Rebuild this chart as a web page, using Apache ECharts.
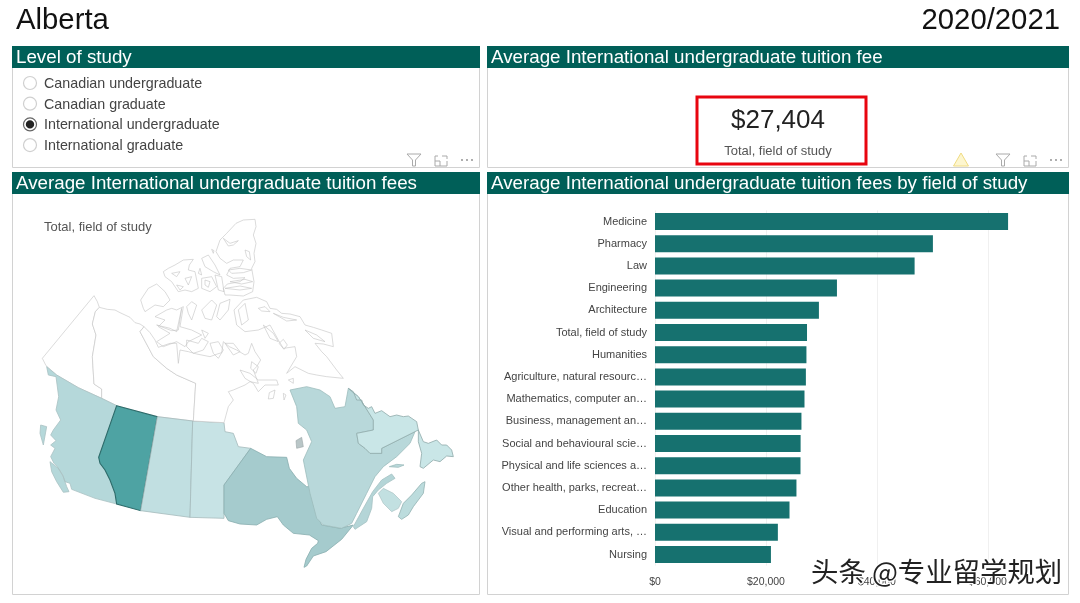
<!DOCTYPE html>
<html>
<head>
<meta charset="utf-8">
<title>Alberta 2020/2021</title>
<script src="https://cdn.jsdelivr.net/npm/echarts@6/dist/echarts.min.js"></script>
<style>
html,body{margin:0;padding:0;background:#fff}
#main{width:1080px;height:603px}
</style>
</head>
<body>
<div id="main"></div>
<script>
var province = 'Alberta';
var year = '2020/2021';
var levels = ['Canadian undergraduate', 'Canadian graduate', 'International undergraduate', 'International graduate'];
var selectedLevel = 2;
var kpiValue = 27404;
var kpiLabel = 'Total, field of study';

var fields = ['Medicine', 'Pharmacy', 'Law', 'Engineering', 'Architecture', 'Total, field of study', 'Humanities',
    'Agriculture, natural resourc…', 'Mathematics, computer an…', 'Business, management an…', 'Social and behavioural scie…',
    'Physical and life sciences a…', 'Other health, parks, recreat…', 'Education', 'Visual and performing arts, …', 'Nursing'];
var fieldFees = [63650, 50100, 46800, 32800, 29550, 27404, 27300, 27200, 26950, 26400, 26250, 26230, 25500, 24250, 22150, 20900];
var feeTicks = [0, 20000, 40000, 60000];

var provinces = ['British Columbia', 'Alberta', 'Saskatchewan', 'Manitoba', 'Ontario', 'Quebec', 'New Brunswick', 'Nova Scotia', 'Prince Edward Island', 'Newfoundland and Labrador'];
var provinceFees = [26500, 27404, 21500, 18500, 38000, 25500, 25000, 23000, 20000, 14000];

// fill and outline per province, same order as provinces
var provinceFill = ['#b5d8da', '#4ea3a3', '#c1dfe1', '#c7e3e5', '#a5cbcd', '#b8d8da', '#b4d5d7', '#bcdcdd', '#c2e0e1', '#c9e6e7'];
var provinceLine = ['#a9c2c3', '#2c6b6a', '#a5babb', '#a5babb', '#88adae', '#9dbcbd', '#a5c2c3', '#93b2b3', '#b3c9ca', '#8fa9aa'];

// outlines, in crop pixels (x, y down), crop origin 20,200 at 3x
var shapes = {
    'Yukon': [[[67,475],[222,287],[232,305],[238,322],[226,335],[217,372],[228,405],[217,470],[222,552],[245,567],[245,595],[175,563],[110,525],[78,497]]],
    'Northwest Territories': [[[238,322],[262,328],[285,330],[300,338],[330,352],[345,368],[360,372],[372,380],[360,395],[400,470],[440,505],[470,525],[527,550],[520,663],[412,650],[290,617],[245,595],[245,567],[222,552],[217,470],[228,405],[217,372],[226,335]]],
    'British Columbia': [
        [[80,500],[110,525],[175,563],[245,595],[290,617],[236,772],[255,810],[270,840],[285,880],[290,912],[225,895],[155,868],[150,850],[135,845],[128,825],[112,800],[102,790],[92,770],[105,745],[92,735],[108,722],[92,705],[100,690],[122,660],[108,630],[116,590],[108,530],[85,525]],
        [[90,785],[115,805],[130,830],[140,860],[147,875],[130,877],[110,845],[95,815]],
        [[62,675],[80,680],[70,735],[60,700]]
    ],
    'Alberta': [[[290,617],[412,650],[362,932],[290,912],[285,880],[270,840],[255,810],[240,790],[236,772]]],
    'Saskatchewan': [[[412,650],[518,663],[510,952],[362,932]]],
    'Manitoba': [[[518,663],[612,668],[615,695],[640,700],[655,740],[692,745],[612,855],[612,955],[510,952]]],
    'Ontario': [[[692,745],[740,770],[800,772],[808,805],[830,835],[860,860],[868,860],[885,930],[905,975],[960,985],[1000,975],[965,1018],[918,1055],[880,1068],[860,1098],[852,1102],[858,1078],[875,1045],[893,1030],[895,1022],[868,1005],[820,1000],[790,975],[772,950],[740,958],[710,975],[660,972],[625,962],[612,940],[612,855]]],
    'Quebec': [
        [[810,570],[860,560],[900,570],[930,590],[945,625],[975,620],[985,565],[1015,590],[1035,620],[1060,660],[1060,690],[1010,700],[1015,730],[1035,745],[1050,760],[1085,760],[1085,745],[1185,695],[1170,730],[1130,770],[1090,800],[1065,830],[1040,880],[1010,940],[995,970],[965,985],[910,975],[890,955],[870,880],[865,855],[850,780],[875,725],[860,690],[835,670],[830,620]],
        [[1108,800],[1130,793],[1152,795],[1135,802]]
    ],
    'New Brunswick': [[[1000,980],[1030,925],[1058,875],[1085,840],[1115,822],[1125,835],[1100,850],[1075,870],[1058,890],[1055,925],[1040,965],[1005,988]]],
    'Nova Scotia': [[[1135,950],[1150,910],[1175,885],[1205,850],[1215,845],[1210,880],[1180,920],[1165,945],[1145,958]]],
    'Prince Edward Island': [[[1075,880],[1090,865],[1120,880],[1145,905],[1135,925],[1115,935],[1090,910]]],
    'Newfoundland and Labrador': [
        [[985,565],[1000,575],[1010,600],[1025,600],[1030,615],[1045,625],[1055,620],[1065,640],[1085,632],[1110,650],[1130,645],[1150,650],[1165,648],[1190,665],[1195,690],[1185,695],[1085,745],[1085,760],[1050,760],[1035,745],[1015,730],[1010,700],[1060,690],[1060,660],[1035,620],[1015,590]],
        [[1195,690],[1210,725],[1225,730],[1250,720],[1265,735],[1280,735],[1295,750],[1300,770],[1280,768],[1260,785],[1240,780],[1210,805],[1200,800],[1205,760],[1195,725]]
    ],
    'Hudson Bay islands': [[[828,722],[845,712],[850,740],[830,745]]]
};

// Arctic coast and islands, same scale, crop origin 130,210
var arcticRings = [
    // mainland, Yukon side of Hudson Bay
    [[42,350],[60,368],[75,390],[85,412],[120,400],[140,400],[145,460],[150,420],[175,425],[200,432],[240,440],[262,432],[275,428],[280,395],[298,410],[320,420],[345,435],[355,430],[365,400],[375,425],[392,450],[380,470],[370,480],[385,520],[360,515],[345,525],[310,540],[295,545],[310,570],[295,590],[282,638],[190,633],[197,520],[140,495],[110,475],[70,440],[30,365]],
    // Ellesmere
    [[318,40],[340,30],[375,28],[378,50],[370,75],[378,100],[372,130],[375,155],[365,175],[372,215],[368,245],[340,258],[300,255],[285,255],[280,235],[292,222],[330,215],[345,203],[310,205],[290,195],[300,175],[330,170],[340,150],[310,150],[290,160],[270,145],[258,125],[270,90],[290,70]],
    [[280,85],[300,100],[325,92],[310,105],[295,108]],
    [[345,120],[358,125],[362,150],[350,140]],
    [[295,180],[330,175],[365,180],[340,188],[305,190]],
    [[300,215],[345,208],[368,215],[335,222]],
    [[285,235],[330,228],[365,235],[330,240]],
    // Queen Elizabeth group
    [[215,145],[235,135],[255,165],[270,195],[250,185],[225,170]],
    [[210,175],[215,195],[205,190]],
    [[245,118],[252,122],[250,130]],
    [[100,185],[115,175],[135,165],[160,150],[190,148],[178,165],[175,180],[195,185],[205,235],[185,245],[165,240],[145,245],[125,215],[105,200]],
    [[125,190],[150,185],[140,200]],
    [[165,205],[185,200],[175,225]],
    [[140,225],[160,230],[150,240]],
    [[215,205],[245,200],[260,230],[240,245],[215,235]],
    [[225,210],[240,215],[235,232],[225,225]],
    [[255,195],[275,200],[282,245],[265,240]],
    // Banks, Victoria and neighbours
    [[32,270],[55,235],[80,222],[105,245],[120,270],[100,290],[75,285],[45,305],[40,295]],
    [[75,320],[110,300],[125,295],[140,300],[160,290],[150,350],[185,360],[215,375],[175,395],[165,410],[140,395],[100,410],[80,395],[120,370],[85,350],[105,330]],
    [[80,345],[120,355],[140,365],[155,295],[145,360],[125,362]],
    [[170,290],[185,275],[200,285],[195,300],[185,330],[175,310]],
    [[215,300],[245,270],[260,285],[245,330],[225,325]],
    [[270,280],[300,268],[295,300],[270,330],[260,320]],
    [[170,390],[205,400],[215,385],[235,395],[220,420],[190,430],[170,410]],
    [[240,400],[265,395],[280,420],[265,445],[250,430]],
    [[285,400],[310,400],[330,425],[310,435]],
    [[215,360],[235,370],[225,385]],
    [[325,300],[345,280],[355,330],[335,345]],
    // Baffin
    [[312,300],[340,270],[380,262],[410,275],[420,295],[440,298],[455,310],[480,312],[510,320],[525,345],[550,352],[575,360],[605,370],[610,410],[580,402],[555,400],[575,425],[590,440],[620,480],[640,505],[590,500],[560,495],[535,490],[495,470],[470,490],[500,440],[495,410],[460,415],[445,390],[420,345],[385,360],[345,365],[320,345]],
    [[385,295],[405,290],[420,305],[395,303]],
    [[430,310],[460,322],[500,330],[470,333]],
    [[525,360],[560,375],[585,395],[550,385]],
    [[447,400],[460,388],[472,405],[462,418]],
    [[400,345],[430,370],[445,395],[420,385]],
    // Southampton and Hudson Bay
    [[330,480],[360,490],[385,510],[440,510],[445,525],[405,525],[385,545],[370,520],[345,505]],
    [[365,455],[385,470],[378,490],[362,475]],
    [[418,548],[435,540],[430,565],[415,567]],
    [[460,550],[468,555],[462,570]],
    [[475,510],[490,505],[490,520]]
];
shapes['Nunavut'] = arcticRings.map(function (ring) {
    return ring.map(function (p) { return [p[0] + 330, p[1] + 30]; });
});

var features = [];
for (var name in shapes) {
    features.push({
        type: 'Feature',
        properties: { name: name },
        geometry: {
            type: 'MultiPolygon',
            coordinates: shapes[name].map(function (ring) {
                return [ring.map(function (p) { return [p[0], -p[1]]; })];
            })
        }
    });
}
echarts.registerMap('canada', { type: 'FeatureCollection', features: features });

var myChart = echarts.init(document.getElementById('main'));

var fontName = '"Liberation Sans", Arial, sans-serif';
var teal = '#005f58';
var panelLine = '#d2d2d2';

function money(v) {
    return '$' + String(v).replace(/\B(?=(\d{3})+$)/g, ',');
}

function panel(x, y, w, h, title) {
    return [
        { type: 'rect', shape: { x: x + 0.5, y: y + 0.5, width: w, height: h }, style: { fill: '#fff', stroke: panelLine, lineWidth: 1 }, z: 0 },
        { type: 'rect', shape: { x: x, y: y, width: w + 1, height: 22 }, style: { fill: teal }, z: 1 },
        { type: 'text', x: x + 4, y: y + 12, style: { text: title, fill: '#fff', font: '18.75px ' + fontName, verticalAlign: 'middle' }, z: 2 }
    ];
}

function icons(x) {
    var col = '#aaa';
    return [
        { type: 'polyline', shape: { points: [[x - 7, 154], [x + 7, 154], [x + 1.5, 160], [x + 1.5, 166], [x - 1.5, 166], [x - 1.5, 160], [x - 7, 154]] }, style: { stroke: col, fill: null, lineWidth: 1 }, z: 3 },
        { type: 'polyline', shape: { points: [[x + 24, 156], [x + 21, 156], [x + 21, 166], [x + 33, 166], [x + 33, 161]] }, style: { stroke: col, fill: null, lineWidth: 1 }, z: 3 },
        { type: 'polyline', shape: { points: [[x + 26, 166], [x + 26, 161], [x + 21, 161]] }, style: { stroke: col, fill: null, lineWidth: 1 }, z: 3 },
        { type: 'polyline', shape: { points: [[x + 28, 156], [x + 33, 156], [x + 33, 159]] }, style: { stroke: col, fill: null, lineWidth: 1 }, z: 3 },
        { type: 'circle', shape: { cx: x + 48, cy: 160, r: 0.9 }, style: { fill: '#888' }, z: 3 },
        { type: 'circle', shape: { cx: x + 53, cy: 160, r: 0.9 }, style: { fill: '#888' }, z: 3 },
        { type: 'circle', shape: { cx: x + 58, cy: 160, r: 0.9 }, style: { fill: '#888' }, z: 3 }
    ];
}

var elements = []
    .concat(panel(12, 46, 467, 121, 'Level of study'))
    .concat(panel(487, 46, 581, 121, 'Average International undergraduate tuition fee'))
    .concat(panel(12, 172, 467, 422, 'Average International undergraduate tuition fees'))
    .concat(panel(487, 172, 581, 422, 'Average International undergraduate tuition fees by field of study'))
    .concat(icons(414))
    .concat(icons(1003));

elements.push(
    { type: 'text', x: 16, y: 20.5, style: { text: province, fill: '#111', font: '29.3px ' + fontName, verticalAlign: 'middle' }, z: 3 },
    { type: 'text', x: 1060, y: 20.5, style: { text: year, fill: '#111', font: '29.3px ' + fontName, align: 'right', verticalAlign: 'middle' }, z: 3 },
    { type: 'rect', shape: { x: 697, y: 97, width: 169, height: 67 }, style: { fill: '#fff', stroke: '#e8050f', lineWidth: 3 }, z: 3 },
    { type: 'text', x: 778, y: 121, style: { text: money(kpiValue), fill: '#222', font: '26px ' + fontName, align: 'center', verticalAlign: 'middle' }, z: 4 },
    { type: 'text', x: 778, y: 151, style: { text: kpiLabel, fill: '#555', font: '13px ' + fontName, align: 'center', verticalAlign: 'middle' }, z: 4 },
    { type: 'text', x: 44, y: 227, style: { text: kpiLabel, fill: '#555', font: '13px ' + fontName, verticalAlign: 'middle' }, z: 4 },
    { type: 'polygon', shape: { points: [[961, 153], [968.5, 166], [953.5, 166]] }, style: { fill: '#fdf6cf', stroke: '#f0dc82', lineWidth: 1 }, z: 4 },
    { type: 'text', x: 811, y: 572, style: { text: '头条 @专业留学规划', fill: '#222', font: '27.4px "Noto Sans CJK SC"', verticalAlign: 'middle', stroke: '#fff', lineWidth: 2.5 }, z: 50 }
);

levels.forEach(function (label, i) {
    var cy = 83 + i * 20.7;
    elements.push(
        { type: 'circle', shape: { cx: 30, cy: cy, r: 6.5 }, style: { fill: '#fff', stroke: i === selectedLevel ? '#666' : '#d0d0d0', lineWidth: 1.2 }, z: 3 },
        { type: 'text', x: 44, y: cy + 1, style: { text: label, fill: '#444', font: '14.3px ' + fontName, verticalAlign: 'middle' }, z: 3 }
    );
    if (i === selectedLevel) {
        elements.push({ type: 'circle', shape: { cx: 30, cy: cy, r: 4.2 }, style: { fill: '#222' }, z: 4 });
    }
});

var option = {
    animation: false,
    backgroundColor: '#fff',
    graphic: { elements: elements },
    grid: { left: 655, top: 210.4, width: 388.3, height: 355.2 },
    xAxis: {
        type: 'value',
        min: 0,
        max: 70000,
        interval: feeTicks[1],
        axisLine: { show: false },
        axisTick: { show: false },
        splitLine: { show: true, showMaxLine: false, lineStyle: { color: '#f0f0f0', width: 1 } },
        axisLabel: { color: '#444', fontFamily: fontName, fontSize: 10.5, margin: 11, showMaxLabel: false, formatter: money }
    },
    yAxis: {
        type: 'category',
        inverse: true,
        data: fields,
        axisLine: { show: false },
        axisTick: { show: false },
        axisLabel: { color: '#444', fontFamily: fontName, fontSize: 11, margin: 8 }
    },
    series: [
        {
            type: 'bar',
            data: fieldFees,
            barWidth: 17,
            itemStyle: { color: '#16716f' },
            silent: true,
            z: 3
        },
        {
            type: 'map',
            map: 'canada',
            aspectScale: 1,
            boundingCoords: [[0, 0], [1350, -1170]],
            layoutCenter: [245, 395],
            layoutSize: 450,
            silent: true,
            z: 3,
            label: { show: false },
            itemStyle: { areaColor: '#fff', borderColor: '#c2c2c2', borderWidth: 0.6 },
            data: provinces.map(function (p, i) {
                return {
                    name: p,
                    value: provinceFees[i],
                    itemStyle: { areaColor: provinceFill[i], borderColor: provinceLine[i], borderWidth: p === province ? 1.1 : 0.8 }
                };
            }).concat([{ name: 'Hudson Bay islands', itemStyle: { areaColor: '#b9c6c7', borderColor: '#9aa5a6', borderWidth: 0.6 } }])
        }
    ]
};

myChart.setOption(option);
</script>
</body>
</html>
